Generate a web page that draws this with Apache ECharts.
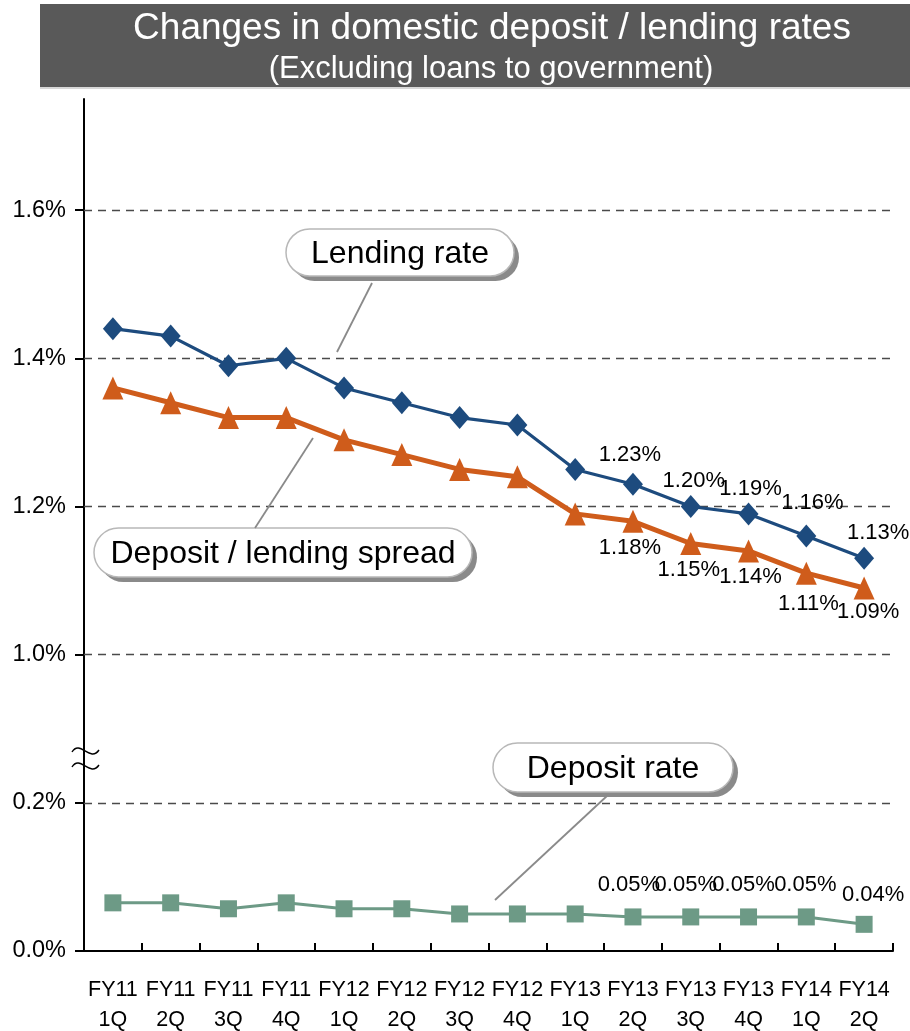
<!DOCTYPE html>
<html>
<head>
<meta charset="utf-8">
<script src="https://cdn.jsdelivr.net/npm/echarts@6/dist/echarts.min.js"></script>
<style>
  html, body { margin: 0; padding: 0; background: #fff; }
  #chart { width: 910px; height: 1031px; }
</style>
</head>
<body>
<div id="chart"></div>
<script>
// Quarterly periods
const quarters = ['FY11\n1Q', 'FY11\n2Q', 'FY11\n3Q', 'FY11\n4Q',
                  'FY12\n1Q', 'FY12\n2Q', 'FY12\n3Q', 'FY12\n4Q',
                  'FY13\n1Q', 'FY13\n2Q', 'FY13\n3Q', 'FY13\n4Q',
                  'FY14\n1Q', 'FY14\n2Q'];

// Rates in percent
const lendingRate = [1.44, 1.43, 1.39, 1.40, 1.36, 1.34, 1.32, 1.31, 1.25, 1.23, 1.20, 1.19, 1.16, 1.13];
const spread      = [1.36, 1.34, 1.32, 1.32, 1.29, 1.27, 1.25, 1.24, 1.19, 1.18, 1.15, 1.14, 1.11, 1.09];
const depositRate = [0.065, 0.065, 0.057, 0.065, 0.057, 0.057, 0.050, 0.050, 0.050, 0.046, 0.046, 0.046, 0.046, 0.036];

// Broken value axis: 0.0%-0.2% on the lower part, 1.0% and above on the upper part
const tickValues = [0.0, 0.2, 1.0, 1.2, 1.4, 1.6];
const firstLabelled = 9;

// Each 0.2 points is one axis step; the gap between 0.2% and 1.0% is collapsed to one step
function toAxis(v) {
  return v >= 0.6 ? 2 + (v - 1.0) / 0.2 : v / 0.2;
}
const tickPositions = tickValues.map(toAxis);

const fmt = v => v.toFixed(2) + '%';
const FONT = 'Liberation Sans, Arial, sans-serif';

function buildData(values, labelOpts, nudges) {
  return values.map((v, i) => {
    const item = { value: toAxis(v), raw: v };
    if (i >= firstLabelled) {
      const off = (nudges && nudges[i]) || [0, 0];
      item.label = Object.assign({ show: true, offset: off }, labelOpts);
    }
    return item;
  });
}

const labelText = p => fmt(p.data.raw);
const labelBase = { color: '#000', fontSize: 22, fontFamily: FONT, formatter: labelText };

// Small per-point label nudges so neighbouring labels stay readable
const lendNudge = { 9: [-3, 0], 10: [3, 4], 11: [2, 5], 12: [6, -4], 13: [14, 4] };
const spreadNudge = { 9: [-3, 0], 10: [-2, 0], 11: [2, 0], 12: [2, 4], 13: [4, -3] };
const depNudge = { 9: [-4, 0], 10: [-5, 0], 11: [-5, 0], 12: [-1, 0], 13: [9, 2] };

function callout(x, y, w, h, text) {
  return {
    type: 'group',
    z: 100,
    children: [
      { type: 'rect', shape: { x: x + 5, y: y + 5, width: w, height: h, r: h / 2 },
        style: { fill: '#8a8a8a' } },
      { type: 'rect', shape: { x: x, y: y, width: w, height: h, r: h / 2 },
        style: { fill: '#fff', stroke: '#b8b8b8', lineWidth: 1.5 } },
      { type: 'text', x: x + w / 2, y: y + h / 2 + 2,
        style: { text: text, fill: '#000', fontSize: 32, fontFamily: FONT,
                 align: 'center', verticalAlign: 'middle' } }
    ]
  };
}

function leader(x1, y1, x2, y2) {
  return { type: 'line', z: 90, shape: { x1, y1, x2, y2 },
           style: { stroke: '#8a8a8a', lineWidth: 1.8 } };
}

function wave(y) {
  return { type: 'bezierCurve', z: 110,
           shape: { x1: 72, y1: y + 3, cpx1: 80, cpy1: y - 10, cpx2: 90, cpy2: y + 14, x2: 99, y2: y + 1 },
           style: { stroke: '#000', lineWidth: 1.4, fill: null } };
}

const chart = echarts.init(document.getElementById('chart'), null, { renderer: 'canvas' });

chart.setOption({
  backgroundColor: '#fff',
  animation: false,
  grid: { left: 84, right: 17, top: 99, bottom: 80, containLabel: false, outerBoundsMode: 'none' },
  xAxis: {
    type: 'category',
    data: quarters,
    boundaryGap: true,
    axisLine: { lineStyle: { color: '#000', width: 2 } },
    axisTick: { show: true, inside: true, length: 8, lineStyle: { color: '#000', width: 2 } },
    axisLabel: { color: '#000', fontSize: 21.5, fontFamily: FONT, lineHeight: 30, margin: 24, interval: 0 },
    splitLine: { show: false }
  },
  yAxis: {
    type: 'value',
    min: 0,
    max: 5.75,
    interval: 1,
    axisLine: { show: true, lineStyle: { color: '#000', width: 2 } },
    axisTick: { show: true, inside: false, length: 9, customValues: tickPositions,
                lineStyle: { color: '#000', width: 2 } },
    axisLabel: {
      customValues: tickPositions,
      color: '#000', fontSize: 23.5, fontFamily: FONT, margin: 18,
      formatter: v => {
        const i = tickPositions.indexOf(v);
        return i >= 0 ? tickValues[i].toFixed(1) + '%' : '';
      }
    },
    splitLine: { show: false }
  },
  series: [
    {
      name: 'Lending rate',
      type: 'line',
      data: buildData(lendingRate, Object.assign({ position: 'top', distance: 7 }, labelBase), lendNudge),
      symbol: 'diamond',
      symbolSize: [20, 23],
      lineStyle: { color: '#1d4b7e', width: 3.2 },
      itemStyle: { color: '#1d4b7e' },
      label: { show: false },
      z: 5,
      markLine: {
        silent: true,
        symbol: 'none',
        label: { show: false },
        lineStyle: { color: '#4a4a4a', type: [8, 6], width: 1.3 },
        data: tickPositions.slice(1).map(p => ({ yAxis: p })),
        z: 1
      }
    },
    {
      name: 'Deposit / lending spread',
      type: 'line',
      data: buildData(spread, Object.assign({ position: 'bottom', distance: 4 }, labelBase), spreadNudge),
      symbol: 'triangle',
      symbolSize: [21, 23],
      lineStyle: { color: '#cf5c1b', width: 5 },
      itemStyle: { color: '#cf5c1b' },
      label: { show: false },
      z: 4
    },
    {
      name: 'Deposit rate',
      type: 'line',
      data: buildData(depositRate, Object.assign({ position: 'top', distance: 12 }, labelBase), depNudge),
      symbol: 'rect',
      symbolSize: 17,
      lineStyle: { color: '#6d9a86', width: 3 },
      itemStyle: { color: '#6d9a86' },
      label: { show: false },
      z: 3
    }
  ],
  graphic: [
    // Title banner
    { type: 'rect', z: 50, shape: { x: 40, y: 4, width: 870, height: 84 }, style: { fill: '#595959' } },
    { type: 'rect', z: 50, shape: { x: 40, y: 87, width: 870, height: 2 }, style: { fill: '#d8d8d8' } },
    { type: 'text', z: 51, x: 492, y: 29,
      style: { text: 'Changes in domestic deposit / lending rates', fill: '#fff', fontSize: 37,
               fontFamily: FONT, align: 'center', verticalAlign: 'middle' } },
    { type: 'text', z: 51, x: 491, y: 69,
      style: { text: '(Excluding loans to government)', fill: '#fff', fontSize: 31,
               fontFamily: FONT, align: 'center', verticalAlign: 'middle' } },
    // Axis break mark
    wave(749),
    wave(764),
    // Callouts
    leader(372, 283, 337, 352),
    leader(313, 438, 255, 528),
    leader(608, 795, 495, 900),
    callout(286, 229, 228, 47, 'Lending rate'),
    callout(94, 528, 378, 49, 'Deposit / lending spread'),
    callout(493, 743, 240, 49, 'Deposit rate')
  ]
});
</script>
</body>
</html>
